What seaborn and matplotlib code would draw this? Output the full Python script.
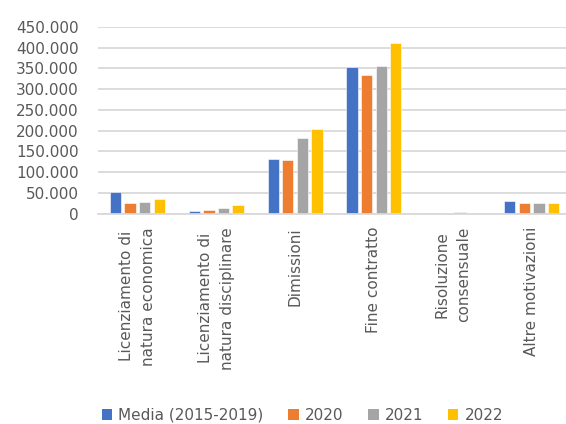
import matplotlib
matplotlib.use("Agg")
import matplotlib.pyplot as plt
import matplotlib.ticker as mticker
from matplotlib.patches import Patch
import seaborn as sns
import pandas as pd

categories = ["Licenziamento di\nnatura economica", "Licenziamento di\nnatura disciplinare",
              "Dimissioni", "Fine contratto", "Risoluzione\nconsensuale", "Altre motivazioni"]
series = ["Media (2015-2019)", "2020", "2021", "2022"]
media = [52000, 6500, 131000, 353500, 2000, 30700]
y2020 = [26600, 9000, 129000, 334000, 2000, 26000]
y2021 = [28000, 14500, 182000, 356000, 4500, 25000]
y2022 = [35500, 21000, 205000, 411500, 1500, 26000]
colors = ["#4472C4", "#ED7D31", "#A5A5A5", "#FFC000"]

rows = []
for s, vals in zip(series, [media, y2020, y2021, y2022]):
    for c, v in zip(categories, vals):
        rows.append({"cat": c, "serie": s, "val": v})
df = pd.DataFrame(rows)

sns.set_style("white")
plt.rcParams['font.family'] = ['DejaVu Sans']
txt = "#595959"

fig = plt.figure(figsize=(5.66, 4.24), dpi=100)
ax = fig.add_axes([98/566, 1-213.7/424, 473/566, (213.7-27)/424])
sns.barplot(data=df, x="cat", y="val", hue="serie", order=categories, hue_order=series,
            palette=colors, width=0.74, gap=0.22, ax=ax, legend=False,
            edgecolor="white", linewidth=0.4, saturation=1)
ax.set_ylim(0, 450000)
ax.set_yticks(range(0, 450001, 50000))
ax.yaxis.set_major_formatter(mticker.FuncFormatter(lambda v, p: f"{int(v):,}".replace(",", ".")))
ax.grid(axis="y", color="#D9D9D9", linewidth=1.3)
ax.set_axisbelow(True)
for s in ["top", "right", "left"]:
    ax.spines[s].set_visible(False)
ax.spines["bottom"].set_color("#D9D9D9")
ax.spines["bottom"].set_linewidth(1.3)
ax.set_xlabel("")
ax.set_ylabel("")
ax.tick_params(axis="y", length=0, pad=14, labelsize=11, labelcolor=txt)
ax.tick_params(axis="x", length=0, pad=9.5, labelsize=11, labelcolor=txt)
for lab in ax.get_xticklabels():
    lab.set_rotation(90)
    lab.set_ha("center")
    lab.set_va("top")
    lab.set_multialignment("center")
    lab.set_linespacing(1.55)

handles = [Patch(facecolor=c, edgecolor="none") for c in colors]
fig.legend(handles, series, loc="center", bbox_to_anchor=(0.534, 0.021), ncol=4,
           frameon=False, fontsize=11, labelcolor=txt, handlelength=0.7, handleheight=0.7,
           handletextpad=0.4, columnspacing=1.6, borderaxespad=0)

fig.savefig("out.png", dpi=100)
